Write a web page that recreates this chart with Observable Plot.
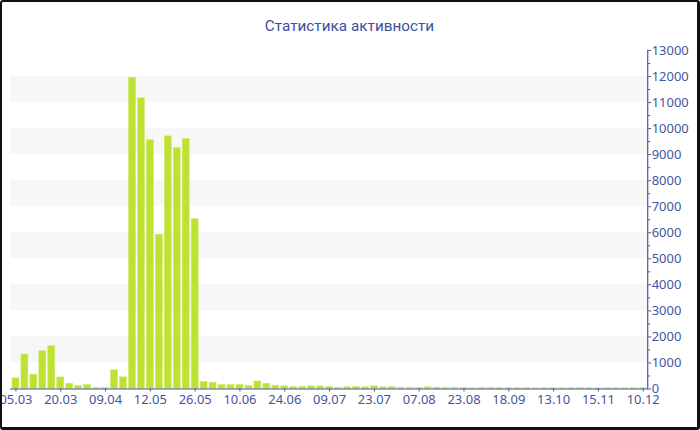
<!DOCTYPE html>
<html><head><meta charset="utf-8">
<script src="https://cdn.jsdelivr.net/npm/d3@7"></script>
<script src="https://cdn.jsdelivr.net/npm/@observablehq/plot@0.6"></script>
<style>
body{margin:0;background:#fff;}
#frame{position:relative;width:700px;height:430px;box-sizing:border-box;border-style:solid;border-color:#111;border-width:2px 3px 3px 2px;border-radius:3px;overflow:hidden;background:#fff}
#title{position:absolute;left:0;right:0;top:15px;text-align:center;font:15.3px Roboto;color:#3c4f9c}
#chart{position:absolute;left:-2px;top:38px}
</style></head><body>
<div id="frame"><div id="title">Статистика активности</div><div id="chart"></div></div>
<script>
const tickLabels = ["05.03","20.03","09.04","12.05","26.05","10.06","24.06","09.07","23.07","07.08","23.08","18.09","13.10","15.11","10.12"];
const values = [410,1325,550,1450,1640,445,200,115,150,40,40,715,445,11950,11160,9550,5920,9700,9250,9600,6520,
  270,240,150,150,150,125,290,200,125,100,75,75,100,100,75,50,65,75,65,100,65,75,50,50,40,65,50,40,50,40,25,40,40,
  35,30,30,35,25,30,30,25,30,35,30,25,30,30,25,30,30];
const bandStarts = [1000,3000,5000,7000,9000,11000];
const yTicks = d3.range(0, 13001, 1000);
const yMinor = d3.range(500, 13000, 1000);

const data = values.map((v, i) => ({i, v}));
const idx = data.map(d => d.i);
const tickIdx = tickLabels.map((_, k) => k * 5);
const blue = "#44569e";

const chart = Plot.plot({
  width: 700, height: 390,
  marginTop: 10, marginBottom: 40, marginLeft: 10, marginRight: 50,
  style: {fontFamily: "Noto Sans", fontSize: "13px", color: blue, background: "transparent"},
  x: {type: "band", domain: idx, padding: 0.25, paddingOuter: 0, align: 0.5},
  y: {domain: [0, 13000]},
  marks: [
    Plot.rectY(bandStarts, {y1: d => d, y2: d => d + 1000, fill: "#f7f7f7"}),
    Plot.barY(data, {x: "i", y: "v", fill: "#bde232", stroke: "#cde96a", strokeWidth: 0.6}),
    Plot.ruleY([0], {stroke: blue, strokeWidth: 1.2}),
    Plot.frame({anchor: "right", stroke: blue, strokeWidth: 1.2}),
    Plot.axisX({ticks: tickIdx, tickFormat: i => tickLabels[i / 5], tickSize: 3, tickPadding: 2.5, stroke: blue, fill: blue, label: null}),
    Plot.axisY({anchor: "right", ticks: yTicks, tickFormat: d => String(d), tickSize: 3, tickPadding: 1, stroke: blue, fill: blue, label: null}),
    Plot.axisY({anchor: "right", ticks: yMinor, tickFormat: () => "", tickSize: 2, stroke: blue, label: null})
  ]
});
document.getElementById("chart").appendChild(chart);
</script>
</body></html>
